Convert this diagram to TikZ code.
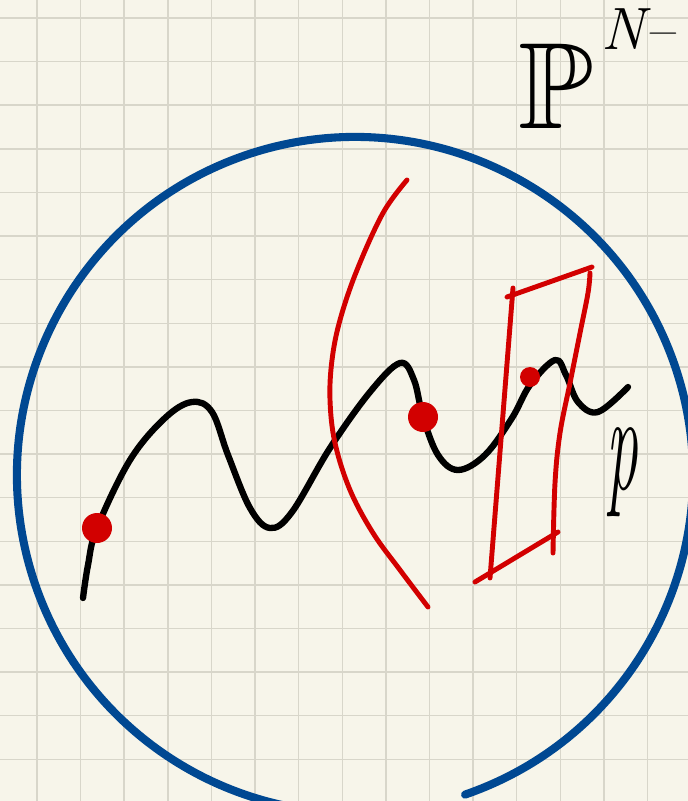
\documentclass[tikz,border=0pt]{standalone}
\usepackage{amssymb}
\usetikzlibrary{positioning}
\definecolor{paper}{RGB}{247,245,234}
\definecolor{gridline}{RGB}{216,214,202}
\definecolor{inkblue}{RGB}{0,72,146}
\definecolor{inkred}{RGB}{210,0,0}
\tikzset{
  gridstroke/.style={gridline, line width=0.8pt},
  sphere/.style={inkblue, line width=4.6pt, line cap=round},
  wiggle/.style={black, line width=3.6pt, line cap=round, line join=round},
  redstroke/.style={inkred, line width=2.8pt, line cap=round, line join=round},
  markpt/.style={inkred},
  handlabel/.style={inner sep=0pt, text=black}
}

\begin{document}
\begin{tikzpicture}[x=0.02cm, y=-0.02cm]
    \useasboundingbox (0,0) rectangle (688,801);
    \clip (0,0) rectangle (688,801);
    \fill[paper] (0,0) rectangle (688,801);
    \foreach \i in {0,...,14}
      \draw[gridstroke] ({37+43.6*\i},0) -- ({37+43.6*\i},801);
    \foreach \j in {0,...,17}
      \draw[gridstroke] (0,{18+43.6*\j}) -- (688,{18+43.6*\j});

    % the big circle, open at the bottom
    \draw[sphere] (355,475) ++(71:338) arc[start angle=71, end angle=-260, radius=338];

    % black curve
    \draw[wiggle] plot[smooth, tension=0.6] coordinates {
      (83,598) (88,565) (97,528) (130,460) (165,418) (192,402) (212,412)
      (228,455) (250,508) (270,528) (292,512) (330,448) (370,392) (400,363)
      (414,380) (423,417) (438,455) (458,470) (485,455) (512,418) (530,385)
      (555,360) (566,375) (578,402) (598,412) (628,387)};

    % red hypersurface
    \draw[redstroke] plot[smooth, tension=0.6] coordinates {
      (407,180) (383,213) (357,270) (340,320) (332,360) (330,400) (335,443)
      (350,490) (373,533) (400,570) (428,607)};

    % red plane
    \draw[redstroke] (507,297) -- (592,267);
    \draw[redstroke] (513,288) -- (490,578);
    \draw[redstroke] plot[smooth, tension=0.6] coordinates {
      (590,273) (588,293) (580,333) (570,383) (560,433) (555,483) (553,553)};
    \draw[redstroke] (475,582) -- (558,532);

    % marked points
    \fill[markpt] (97,528) circle[radius=15];
    \fill[markpt] (423,417) circle[radius=15];
    \fill[markpt] (530,377) circle[radius=10];

    \node[handlabel, font=\fontsize{70}{70}\selectfont, anchor=base west] (proj) at (518,128) {$\mathbb{P}$};
    \node[handlabel, font=\fontsize{34}{34}\selectfont\itshape, anchor=base west] (projexp)
      at ([xshift=4pt, yshift=-4pt]proj.north east) {N\textendash};
    \node[handlabel, font=\fontsize{80}{80}\selectfont\itshape] (pt) at (622,472) {\scalebox{0.45}[1]{p}};
  \end{tikzpicture}
\end{document}
